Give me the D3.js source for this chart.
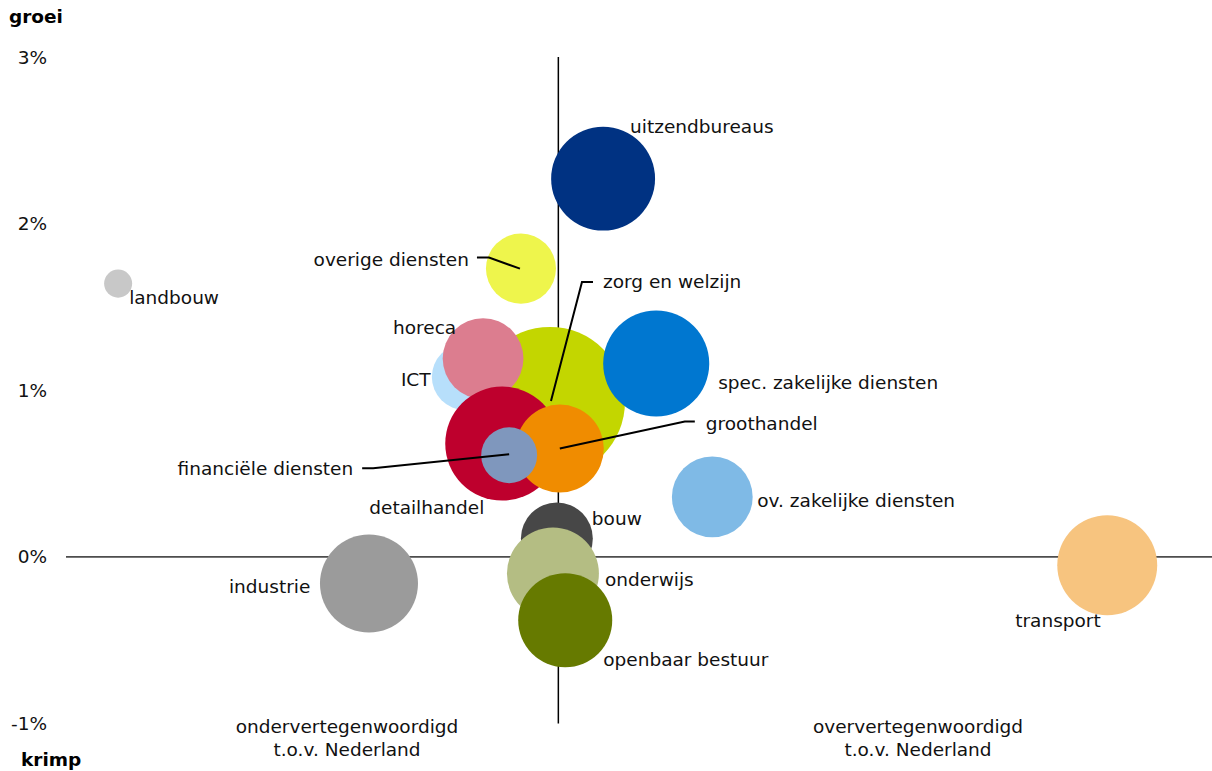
<!DOCTYPE html>
<html>
<head>
<meta charset="utf-8">
<script src="https://cdn.jsdelivr.net/npm/d3@7"></script>
<style>
  html, body { margin: 0; padding: 0; background: #fff; }
  svg { display: block; font-family: "DejaVu Sans", Verdana, sans-serif; }
</style>
</head>
<body>
<svg id="chart" width="1212" height="771"></svg>
<script>
// ---- data ----
const sectors = ["landbouw","uitzendbureaus","overige diensten","zorg en welzijn","ICT","horeca",
  "spec. zakelijke diensten","detailhandel","groothandel","financiële diensten",
  "ov. zakelijke diensten","bouw","onderwijs","openbaar bestuur","industrie","transport"];
// relative representation (index, Nederland = 100)
const indexValues = [10.6, 109.2, 92.5, 98.4, 81.1, 84.8, 120.0, 88.7, 100.4, 90.1, 131.4, 99.8, 99.0, 101.5, 61.6, 211.7];
// growth (%)
const growthValues = [1.64, 2.27, 1.73, 0.93, 1.08, 1.19, 1.16, 0.68, 0.65, 0.61, 0.36, 0.11, -0.10, -0.38, -0.16, -0.05];
// size (relative employment)
const sizeValues = [3.5, 48, 21.8, 100, 19.4, 29, 50, 57.8, 34.4, 13.9, 29, 23, 37.6, 39.3, 42.7, 44.4];
const yTicks = [-1, 0, 1, 2, 3];
const yTickLabels = ["-1%", "0%", "1%", "2%", "3%"];

// ---- styles / layout ----
const colors = ["#c8c8c8","#003282","#eef54c","#c3d600","#b7dffb","#dc7d8f",
  "#0077d0","#be002d","#f08c00","#7f97bd","#7fbae6","#474747","#b4bd83","#667a00","#9b9b9b","#f7c47f"];
// label offsets relative to bubble centre (px): dx, dy, anchor, leader points
const labelLayout = {
  "landbouw": {dx: 11, dy: 20},
  "uitzendbureaus": {dx: 27, dy: -46},
  "overige diensten": {dx: -52, dy: -3, anchor: "end", leader: [[-44,-11],[-32,-11],[-1,0]]},
  "zorg en welzijn": {dx: 53, dy: -114, leader: [[43,-120],[32,-120],[1,-1]]},
  "horeca": {dx: -90, dy: -25},
  "ICT": {dx: -64, dy: 9},
  "spec. zakelijke diensten": {dx: 62, dy: 25},
  "detailhandel": {dx: -133, dy: 70},
  "groothandel": {dx: 146, dy: -19, leader: [[135,-27],[125,-27],[0,0]]},
  "financiële diensten": {dx: -156, dy: 20, anchor: "end", leader: [[-147,13],[-136,13],[0,-1]]},
  "ov. zakelijke diensten": {dx: 45, dy: 10},
  "bouw": {dx: 35, dy: -14},
  "onderwijs": {dx: 52, dy: 12},
  "openbaar bestuur": {dx: 38, dy: 46},
  "industrie": {dx: -140, dy: 9},
  "transport": {dx: -92, dy: 62}
};

const svg = d3.select("#chart");
const x = d3.scaleLinear().domain([0, 233]).range([66, 1212]);
const y = d3.scaleLinear().domain([-1, 3]).range([723.5, 57]);
const r = d3.scaleSqrt().domain([0, 100]).range([0, 75]);
const fs = 18.5;

// y tick labels
svg.append("g").selectAll("text").data(yTicks).join("text")
  .attr("x", 47).attr("y", d => y(d) + 6.5)
  .attr("text-anchor", "end").attr("font-size", fs).attr("fill", "#111")
  .text((d, i) => yTickLabels[i]);

// axis lines
svg.append("line").attr("x1", x(0)).attr("x2", x(233)).attr("y1", y(0)).attr("y2", y(0))
  .attr("stroke", "#4d4d4d").attr("stroke-width", 1.8);
svg.append("line").attr("x1", x(100) + 0.5).attr("x2", x(100) + 0.5).attr("y1", y(3)).attr("y2", y(-1))
  .attr("stroke", "#000").attr("stroke-width", 1.5);

const data = sectors.map((s, i) => ({name: s, xv: indexValues[i], yv: growthValues[i], sz: sizeValues[i], color: colors[i]}));

// bubbles
svg.append("g").selectAll("circle").data(data).join("circle")
  .attr("cx", d => x(d.xv)).attr("cy", d => y(d.yv)).attr("r", d => r(d.sz))
  .attr("fill", d => d.color);

// leader lines
const line = d3.line();
svg.append("g").selectAll("path").data(data.filter(d => labelLayout[d.name].leader)).join("path")
  .attr("d", d => line(labelLayout[d.name].leader.map(p => [x(d.xv) + p[0], y(d.yv) + p[1]])))
  .attr("fill", "none").attr("stroke", "#000").attr("stroke-width", 2);

// labels
svg.append("g").selectAll("text").data(data).join("text")
  .attr("x", d => x(d.xv) + labelLayout[d.name].dx)
  .attr("y", d => y(d.yv) + labelLayout[d.name].dy)
  .attr("text-anchor", d => labelLayout[d.name].anchor || "start")
  .attr("font-size", fs).attr("fill", "#111")
  .text(d => d.name);

// axis titles
svg.append("text").attr("x", 9).attr("y", 23).attr("font-size", fs).attr("font-weight", "bold").attr("fill", "#000").text("groei");
svg.append("text").attr("x", 21).attr("y", 766).attr("font-size", fs).attr("font-weight", "bold").attr("fill", "#000").text("krimp");

const bottom = [
  {cx: 347, lines: ["ondervertegenwoordigd", "t.o.v. Nederland"]},
  {cx: 918, lines: ["oververtegenwoordigd", "t.o.v. Nederland"]}
];
bottom.forEach(b => {
  b.lines.forEach((t, i) => {
    svg.append("text").attr("x", b.cx).attr("y", 733 + i * 23).attr("text-anchor", "middle")
      .attr("font-size", fs).attr("fill", "#111").text(t);
  });
});
</script>
</body>
</html>
